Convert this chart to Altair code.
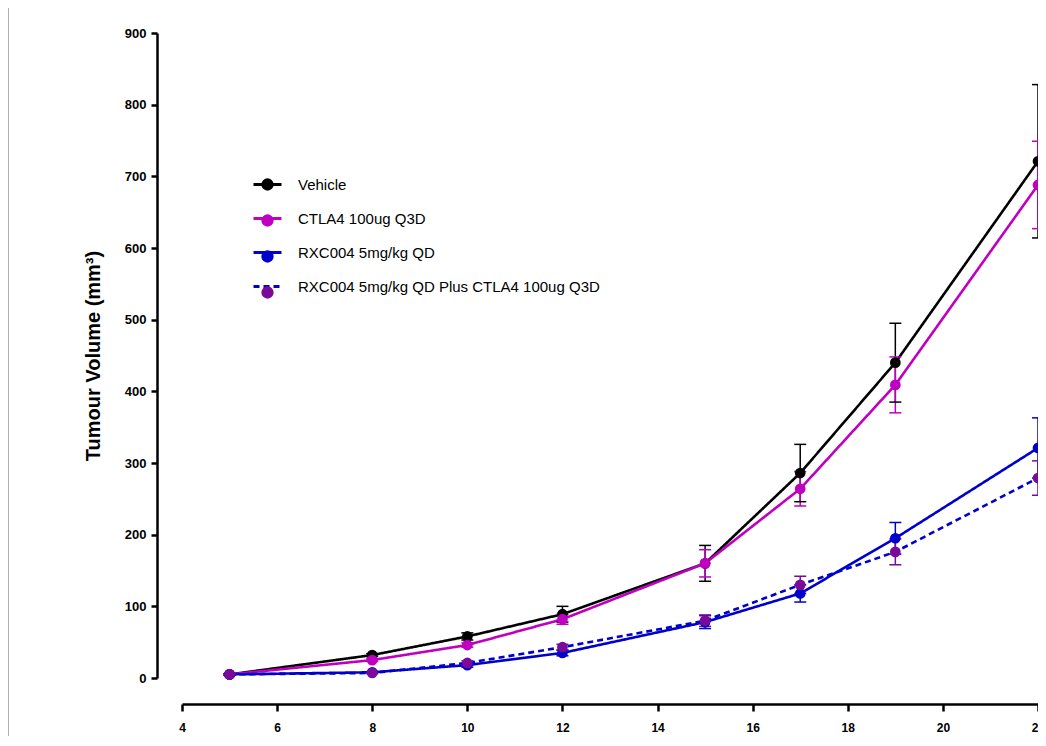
import altair as alt
import pandas as pd

days = [5, 8, 10, 12, 15, 17, 19, 22]
series_names = [
    "Vehicle",
    "CTLA4 100ug Q3D",
    "RXC004 5mg/kg QD",
    "RXC004 5mg/kg QD Plus CTLA4 100ug Q3D",
]
point_keys = ["p0", "p1", "p2", "p3"]
vehicle_mean = [5, 32, 58, 89, 160, 286, 440, 721]
vehicle_sem = [1, 2, 5, 11, 25, 40, 55, 107]
ctla4_mean = [5, 25, 46, 82, 160, 264, 409, 688]
ctla4_sem = [1, 2, 3, 7, 19, 24, 39, 61]
rxc_mean = [5, 8, 18, 35, 78, 118, 195, 321]
rxc_sem = [1, 1, 3, 4, 9, 12, 22, 42]
combo_mean = [5, 7, 21, 43, 80, 130, 176, 279]
combo_sem = [1, 1, 3, 4, 8, 12, 18, 24]

x_ticks = [4, 6, 8, 10, 12, 14, 16, 18, 20, 22]
y_ticks = [0, 100, 200, 300, 400, 500, 600, 700, 800, 900]

line_colors = ["#000000", "#C000C0", "#0000CC", "#0000CC"]
point_colors = ["#000000", "#C000C0", "#0000CC", "#7A0A9A"]
dashes = [[1, 0], [1, 0], [1, 0], [6, 4]]

means = [vehicle_mean, ctla4_mean, rxc_mean, combo_mean]
sems = [vehicle_sem, ctla4_sem, rxc_sem, combo_sem]

rows = []
for k, name in enumerate(series_names):
    for d, m, s in zip(days, means[k], sems[k]):
        rows.append({"day": d, "mean": m, "lo": m - s, "hi": m + s,
                     "series": name, "series_pt": point_keys[k]})
df = pd.DataFrame(rows)

FONT = "Liberation Sans"

x_enc = alt.X(
    "day:Q",
    scale=alt.Scale(domain=[4, 22], nice=False, zero=False),
    axis=alt.Axis(
        values=x_ticks, title=None, offset=26, grid=False, tickSize=7,
        tickWidth=2.5, domainWidth=2.5, domainColor="#000", tickColor="#000",
        labelFont=FONT, labelFontWeight="bold", labelFontSize=12,
        labelColor="#000", labelPadding=11, labelFlush=False, labelOverlap=False,
    ),
)
y_enc = alt.Y(
    "mean:Q",
    scale=alt.Scale(domain=[0, 900], nice=False),
    axis=alt.Axis(
        values=y_ticks, title="Tumour Volume (mm³)", offset=25, grid=False,
        tickSize=6, tickWidth=2.5, domainWidth=2.5, domainColor="#000",
        tickColor="#000", labelFont=FONT, labelFontWeight="bold",
        labelFontSize=13, labelColor="#000", labelPadding=5,
        titleFont=FONT, titleFontWeight="bold", titleFontSize=20,
        titleColor="#000", titlePadding=21,
    ),
)

legend_common = dict(
    orient="none", legendX=70, legendY=136, title=None, padding=0,
    symbolSize=784, rowPadding=10, labelOffset=15, labelFont=FONT,
    labelFontSize=15, labelLimit=700, symbolStrokeWidth=2.8, labelColor="#000",
)

stroke_legend = alt.Legend(symbolType="stroke", **legend_common)

dot_path = "M-0.34,0A0.34,0.34 0 1,1 0.34,0A0.34,0.34 0 1,1 -0.34,0Z"
dot_legend = alt.Legend(symbolType=dot_path, symbolStrokeColor="transparent",
                        symbolOpacity=1, labelExpr="' '", **legend_common)
pt_scale = alt.Scale(domain=point_keys, range=point_colors)

lines = alt.Chart(df).mark_line(strokeWidth=2.6).encode(
    x=x_enc,
    y=y_enc,
    stroke=alt.Stroke("series:N", scale=alt.Scale(domain=series_names, range=line_colors),
                      legend=stroke_legend),
    strokeDash=alt.StrokeDash("series:N", scale=alt.Scale(domain=series_names, range=dashes),
                              legend=stroke_legend),
    order=alt.Order("day:Q"),
)

err = alt.Chart(df).mark_rule(strokeWidth=1.5).encode(
    x="day:Q",
    y="lo:Q",
    y2="hi:Q",
    color=alt.Color("series_pt:N", scale=pt_scale, legend=dot_legend),
)

caps = alt.Chart(df).transform_fold(["lo", "hi"], as_=["end", "val"]).mark_tick(
    orient="horizontal", thickness=1.5, size=12, opacity=1
).encode(
    x="day:Q",
    y="val:Q",
    color=alt.Color("series_pt:N", scale=pt_scale, legend=dot_legend),
)

points = alt.Chart(df).mark_point(filled=True, shape="circle", size=115, opacity=1,
                                  strokeWidth=0).encode(
    x="day:Q",
    y="mean:Q",
    color=alt.Color("series_pt:N", scale=pt_scale, legend=dot_legend),
)

border = alt.Chart(df).mark_rule(color="#b0b0b0", strokeWidth=1).encode(
    x=alt.value(-173.5), y=alt.value(-25), y2=alt.value(720)
)

chart = alt.layer(border, lines, err, caps, points).properties(
    width=856, height=645,
    background="white",
    padding={"left": 174, "top": 25, "right": 0, "bottom": 58},
    autosize=alt.AutoSizeParams(type="none"),
).configure_view(strokeWidth=0, stroke="transparent")

chart.save("out.html", embed_options={"renderer": "svg", "actions": False})
